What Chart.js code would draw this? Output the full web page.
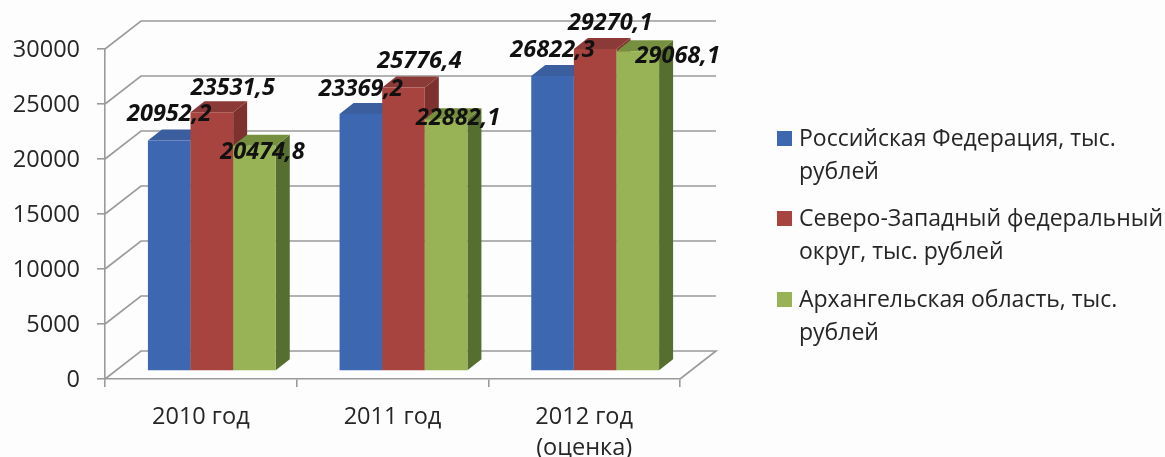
<!DOCTYPE html>
<html lang="ru">

<head>
  <meta charset="UTF-8" />
  <title>Chart</title>
  <script src="https://cdn.jsdelivr.net/npm/chart.js"></script>
  <style>
    body { margin: 0; background: #fdfdfd; width: 1165px; height: 457px; overflow: hidden; position: relative; }
    canvas { position: absolute; left: 0; top: 0; }
    .legenda { position: absolute; left: 777px; top: 0; font: 23px "Open Sans", sans-serif; color: #262626; line-height: 33px; }
    .legenda div { position: absolute; left: 22px; width: 380px; white-space: nowrap; }
    .legenda i { position: absolute; left: -22px; top: 10px; width: 15px; height: 15px; }
  </style>
</head>

<body>
  <canvas id="grafico" width="1165" height="457"></canvas>
  <div class="legenda" id="legenda"></div>

  <script>
    const categorias = ['2010 год', '2011 год', ['2012 год', '(оценка)']];
    const russia = [20952.2, 23369.2, 26822.3];
    const noroeste = [23531.5, 25776.4, 29270.1];
    const arkhangelsk = [20474.8, 22882.1, 29068.1];
    const nomes = [
      ['Российская Федерация, тыс.', 'рублей'],
      ['Северо-Западный федеральный', 'округ, тыс. рублей'],
      ['Архангельская область, тыс.', 'рублей']
    ];

    // front, side, top of each bar colour
    const cores = [
      ['#3d67b1', '#2f5088', '#3a5e9e'],
      ['#a8443f', '#7d322f', '#8b3a37'],
      ['#97b356', '#566e30', '#76903f']
    ];

    // depth of the walls and of the bars, shift of the bars inside the box
    const paredeX = 36, paredeY = -28;
    const fundoX = 14, fundoY = -11;
    const barraX = 11, barraY = -8;

    // where each value label sits relative to its bar
    const deslocLabels = [
      [[0, -26], [0, -25], [0, -26]],
      [[21, -24], [16, -26], [15, -26]],
      [[8, 7], [12, -1], [40, 5]]
    ];

    const caixa3d = {
      id: 'caixa3d',
      beforeDatasetsDraw(chart) {
        const ctx = chart.ctx;
        const area = chart.chartArea;
        const y = chart.scales.y;
        ctx.save();
        ctx.strokeStyle = '#9b9b9b';
        ctx.lineWidth = 1.6;
        y.ticks.forEach((t, i) => {
          const py = y.getPixelForTick(i);
          ctx.beginPath();
          ctx.moveTo(area.left, py);
          ctx.lineTo(area.left + paredeX, py + paredeY);
          ctx.lineTo(area.right + paredeX, py + paredeY);
          if (i === 0) ctx.lineTo(area.right, py);
          ctx.stroke();
        });
        ctx.restore();
      },
      // bars are painted below, left to right, so the next bar covers the side of the previous one
      beforeDatasetDraw() {
        return false;
      },
      afterDatasetsDraw(chart) {
        const ctx = chart.ctx;
        ctx.save();
        ctx.translate(barraX, barraY);
        chart.data.datasets.forEach((ds, d) => {
          const meta = chart.getDatasetMeta(d);
          desenharFundo(ctx, meta, cores[d]);
          meta.controller.draw();
        });
        ctx.restore();

        ctx.save();
        ctx.font = 'italic bold 23.5px "Open Sans", sans-serif';
        ctx.fillStyle = '#111';
        ctx.textAlign = 'center';
        ctx.textBaseline = 'middle';
        chart.data.datasets.forEach((ds, d) => {
          chart.getDatasetMeta(d).data.forEach((bar, i) => {
            const texto = ds.data[i].toFixed(1).replace('.', ',');
            const o = deslocLabels[d][i];
            ctx.fillText(texto, bar.x + barraX + o[0], bar.y + barraY + o[1]);
          });
        });
        ctx.restore();
      }
    };

    function desenharFundo(ctx, meta, c) {
      meta.data.forEach(bar => {
        const p = bar.getProps(['x', 'y', 'base', 'width']);
        const dir = p.x + p.width / 2;
        const esq = p.x - p.width / 2;
        ctx.fillStyle = c[1];
        ctx.beginPath();
        ctx.moveTo(dir, p.y);
        ctx.lineTo(dir + fundoX, p.y + fundoY);
        ctx.lineTo(dir + fundoX, p.base + fundoY);
        ctx.lineTo(dir, p.base);
        ctx.closePath();
        ctx.fill();
        ctx.fillStyle = c[2];
        ctx.beginPath();
        ctx.moveTo(esq, p.y);
        ctx.lineTo(esq + fundoX, p.y + fundoY);
        ctx.lineTo(dir + fundoX, p.y + fundoY);
        ctx.lineTo(dir, p.y);
        ctx.closePath();
        ctx.fill();
      });
    }

    const eixoFonte = { family: '"Open Sans", sans-serif', size: 23.5, lineHeight: 1.3 };

    new Chart(document.getElementById('grafico'), {
      type: 'bar',
      data: {
        labels: categorias,
        datasets: [
          { label: nomes[0].join(' '), data: russia, backgroundColor: cores[0][0] },
          { label: nomes[1].join(' '), data: noroeste, backgroundColor: cores[1][0] },
          { label: nomes[2].join(' '), data: arkhangelsk, backgroundColor: cores[2][0] }
        ]
      },
      options: {
        responsive: false,
        animation: false,
        layout: { padding: { top: 49, right: 485, left: 0, bottom: 0 } },
        datasets: { bar: { barPercentage: 1, categoryPercentage: 0.667 } },
        plugins: { legend: { display: false }, tooltip: { enabled: false } },
        scales: {
          x: {
            afterFit: s => { s.height = 78; },
            grid: { offset: true, drawOnChartArea: false, color: '#9b9b9b', tickLength: 8, lineWidth: 1.6 },
            border: { color: '#9b9b9b', width: 1.6 },
            ticks: { font: eixoFonte, color: '#262626', padding: 15, maxRotation: 0 }
          },
          y: {
            min: 0,
            max: 30000,
            afterFit: s => { s.width = 105; },
            grid: { drawOnChartArea: false, color: '#9b9b9b', tickLength: 8, lineWidth: 1.6 },
            border: { color: '#9b9b9b', width: 1.6 },
            ticks: { stepSize: 5000, font: eixoFonte, color: '#262626', padding: 17, labelOffset: 1, callback: v => String(v) }
          }
        }
      },
      plugins: [caixa3d]
    });

    // legend as html, the text wraps in two lines like the original
    const topos = [121, 201, 282];
    const legenda = document.getElementById('legenda');
    nomes.forEach((linhas, i) => {
      const item = document.createElement('div');
      item.style.top = topos[i] + 'px';
      const quad = document.createElement('i');
      quad.style.background = cores[i][0];
      item.appendChild(quad);
      item.appendChild(document.createTextNode(linhas[0]));
      item.appendChild(document.createElement('br'));
      item.appendChild(document.createTextNode(linhas[1]));
      legenda.appendChild(item);
    });
  </script>
</body>

</html>
